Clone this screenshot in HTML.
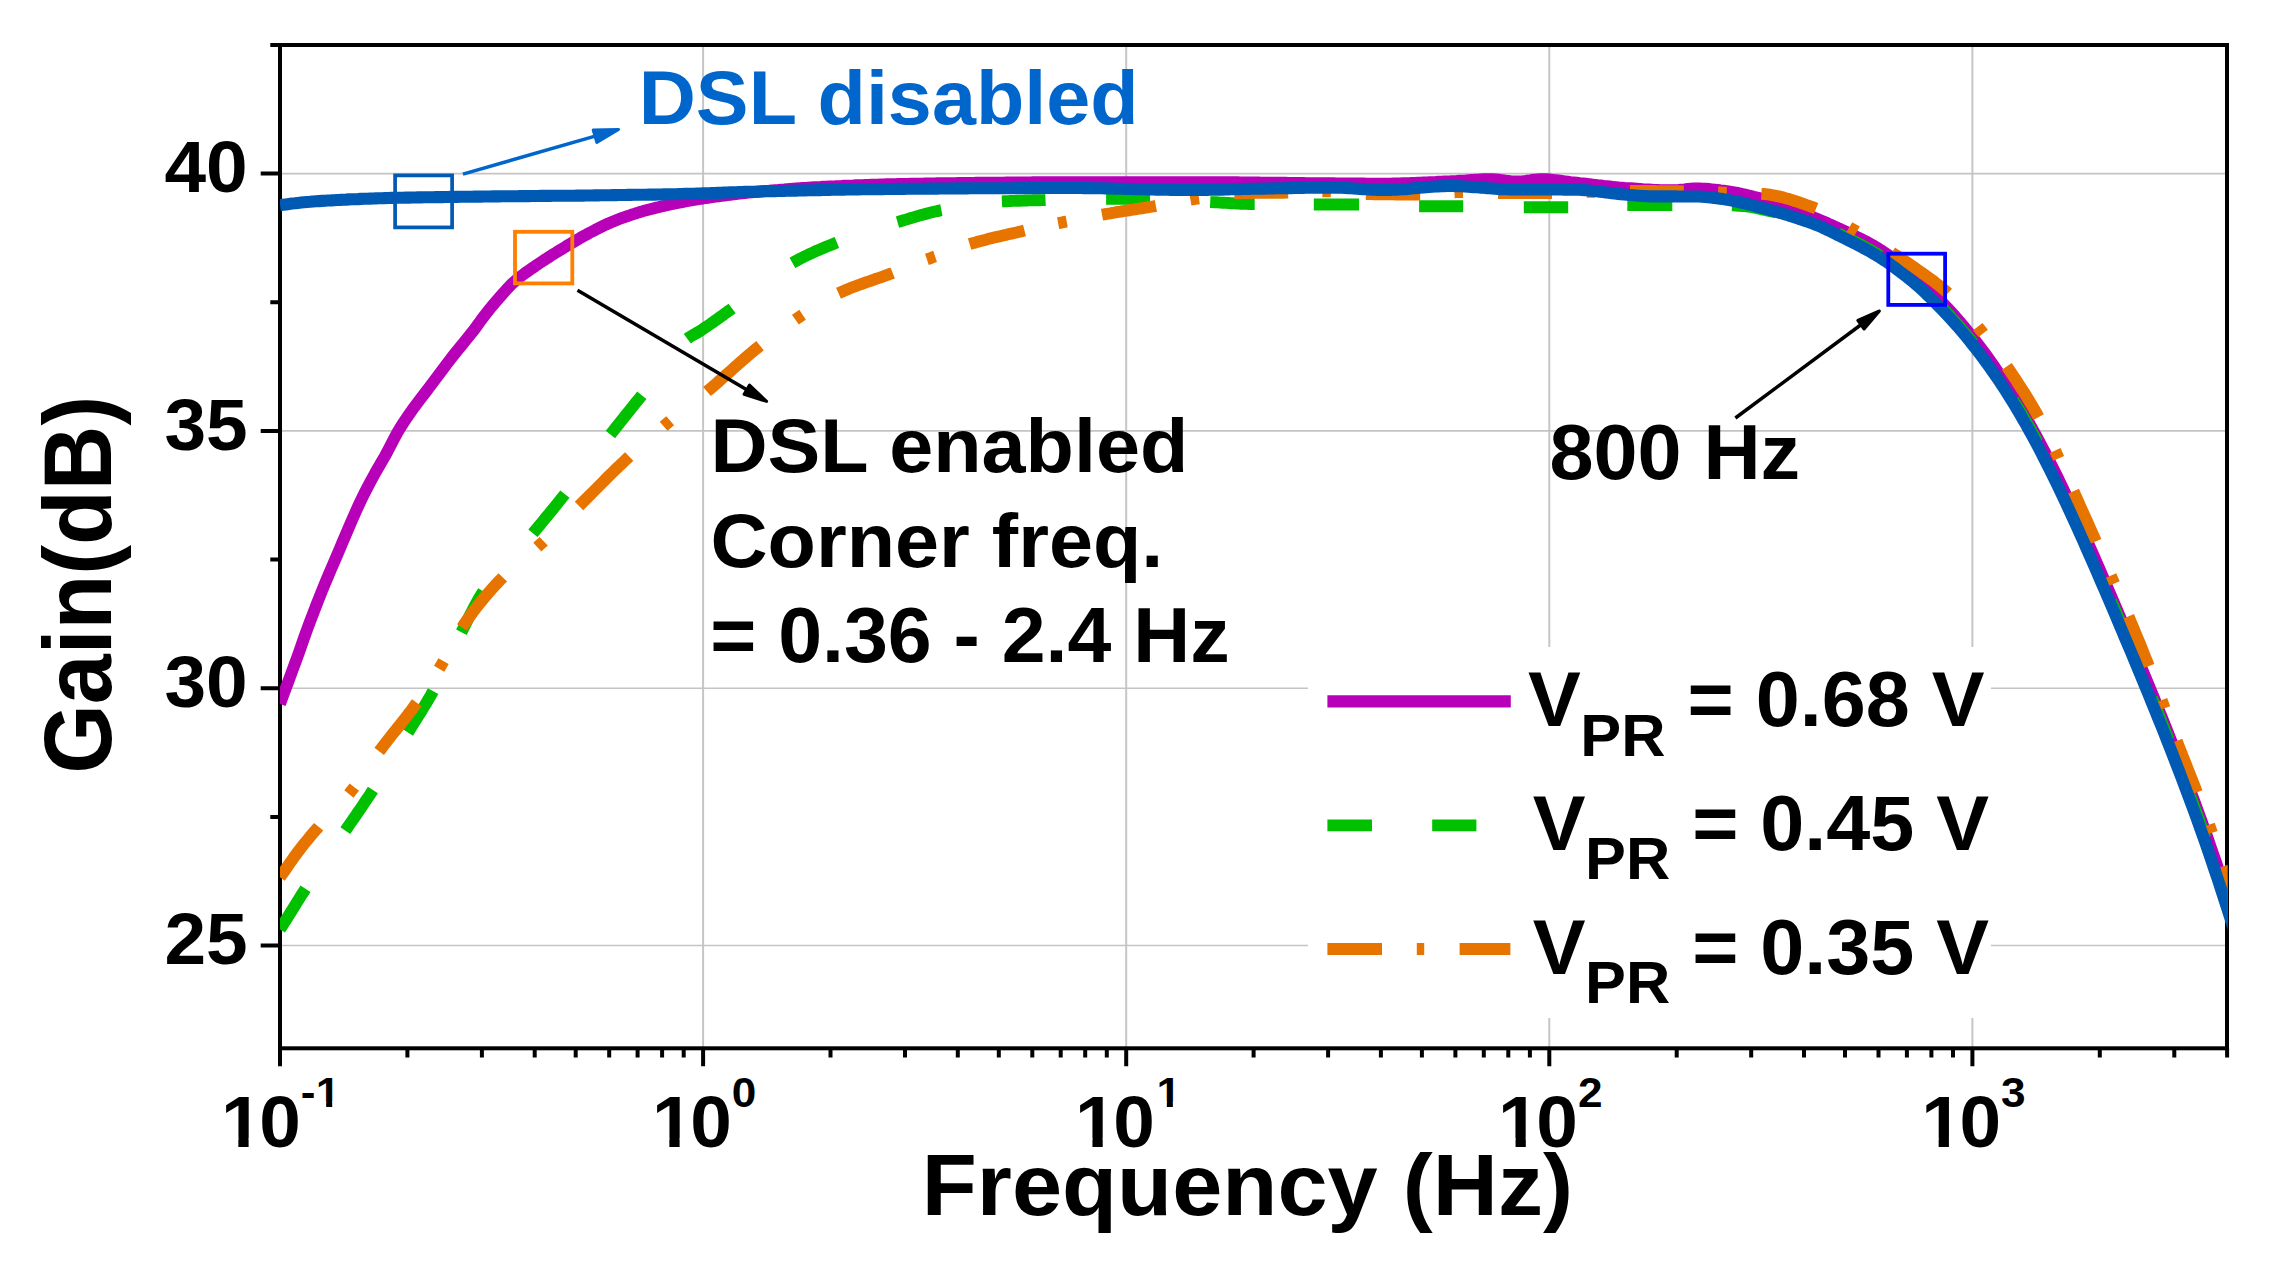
<!DOCTYPE html><html><head><meta charset="utf-8"><title>Gain vs Frequency</title>
<style>html,body{margin:0;padding:0;background:#fff;}svg{display:block;}text{font-family:"Liberation Sans",sans-serif;font-weight:bold;}</style></head><body>
<svg width="2271" height="1275" viewBox="0 0 2271 1275">
<rect width="2271" height="1275" fill="#fff"/>
<path d="M703.1 45.0 V1048.3 M1126.2 45.0 V1048.3 M1549.3 45.0 V1048.3 M1972.4 45.0 V1048.3" stroke="#C6C6C6" stroke-width="2" fill="none"/>
<path d="M280.0 945.5 H2227.0 M280.0 688.2 H2227.0 M280.0 430.9 H2227.0 M280.0 173.6 H2227.0" stroke="#C4C4C4" stroke-width="1.6" fill="none"/>
<rect x="280.0" y="45.0" width="1947.0" height="1003.3" fill="none" stroke="#000" stroke-width="4"/>
<defs><clipPath id="cp"><rect x="280.0" y="45.0" width="1947.7" height="1003.3"/></clipPath></defs>
<g clip-path="url(#cp)" fill="none" stroke-width="11.9" stroke-linejoin="round">
<path d="M280.0 703.9 L283.0 695.8 L286.0 687.7 L289.0 679.6 L292.0 671.5 L295.0 663.4 L298.0 655.3 L301.0 646.8 L304.0 638.0 L307.0 629.7 L310.0 621.6 L313.0 613.8 L316.0 606.0 L319.0 598.4 L322.0 590.9 L325.0 583.6 L328.0 576.4 L331.0 569.3 L334.0 562.3 L337.0 555.3 L340.0 548.3 L343.0 541.1 L346.0 534.1 L349.0 527.1 L352.0 520.2 L355.0 513.4 L358.0 506.6 L361.0 500.2 L364.0 494.1 L367.0 488.2 L370.0 482.5 L373.0 477.0 L376.0 471.5 L379.1 466.2 L382.1 461.1 L385.1 455.9 L388.1 450.3 L391.1 444.5 L394.1 438.6 L397.1 433.1 L400.1 428.0 L403.1 423.3 L406.1 418.8 L409.1 414.4 L412.1 410.1 L415.1 406.0 L418.1 402.0 L421.1 398.0 L424.1 394.1 L427.1 390.3 L430.1 386.3 L433.1 382.3 L436.1 378.3 L439.1 374.3 L442.1 370.2 L445.1 366.2 L448.1 362.2 L451.1 358.3 L454.1 354.5 L457.1 350.7 L460.1 347.1 L463.1 343.4 L466.1 339.8 L469.1 336.1 L472.1 332.3 L475.1 328.5 L478.1 324.3 L481.1 320.1 L484.1 316.1 L487.1 312.3 L490.1 308.5 L493.1 304.9 L496.1 301.4 L499.1 297.9 L502.1 294.5 L505.1 291.1 L508.1 287.8 L511.1 284.7 L514.1 281.9 L517.1 279.3 L520.1 276.9 L523.1 274.6 L526.1 272.4 L529.1 270.3 L532.1 268.2 L535.1 266.2 L538.1 264.1 L541.1 262.1 L544.1 260.1 L547.1 258.2 L550.1 256.2 L553.1 254.3 L556.1 252.5 L559.1 250.6 L562.1 248.8 L565.1 247.0 L568.1 245.1 L571.1 243.3 L574.2 241.5 L577.2 239.8 L580.2 238.0 L583.2 236.3 L586.2 234.7 L589.2 233.0 L592.2 231.5 L595.2 229.9 L598.2 228.4 L601.2 226.9 L604.2 225.4 L607.2 224.0 L610.2 222.7 L613.2 221.4 L616.2 220.2 L619.2 219.0 L622.2 217.9 L625.2 216.9 L628.2 215.8 L631.2 214.8 L634.2 213.9 L637.2 212.9 L640.2 212.0 L643.2 211.1 L646.2 210.3 L649.2 209.5 L652.2 208.7 L655.2 207.9 L658.2 207.2 L661.2 206.4 L664.2 205.8 L667.2 205.1 L670.2 204.5 L673.2 203.8 L676.2 203.2 L679.2 202.6 L682.2 202.1 L685.2 201.5 L688.2 200.9 L691.2 200.4 L694.2 199.9 L697.2 199.4 L700.2 198.9 L703.2 198.5 L706.2 198.0 L709.2 197.6 L712.2 197.2 L715.2 196.7 L718.2 196.3 L721.2 195.9 L724.2 195.5 L727.2 195.1 L730.2 194.8 L733.2 194.4 L736.2 194.0 L739.2 193.7 L742.2 193.3 L745.2 193.0 L748.2 192.7 L751.2 192.4 L754.2 192.1 L757.2 191.8 L760.2 191.5 L763.2 191.2 L766.2 190.9 L769.2 190.7 L772.3 190.4 L775.3 190.1 L778.3 189.9 L781.3 189.6 L784.3 189.4 L787.3 189.1 L790.3 188.9 L793.3 188.7 L796.3 188.5 L799.3 188.3 L802.3 188.0 L805.3 187.9 L808.3 187.7 L811.3 187.5 L814.3 187.3 L817.3 187.1 L820.3 187.0 L823.3 186.8 L826.3 186.7 L829.3 186.5 L832.3 186.4 L835.3 186.3 L838.3 186.1 L841.3 186.0 L844.3 185.8 L847.3 185.7 L850.3 185.6 L853.3 185.5 L856.3 185.3 L859.3 185.2 L862.3 185.1 L865.3 185.0 L868.3 184.9 L871.3 184.8 L874.3 184.7 L877.3 184.6 L880.3 184.5 L883.3 184.4 L886.3 184.3 L889.3 184.2 L892.3 184.2 L895.3 184.1 L898.3 184.0 L901.3 184.0 L904.3 183.9 L907.3 183.9 L910.3 183.8 L913.3 183.7 L916.3 183.7 L919.3 183.6 L922.3 183.6 L925.3 183.5 L928.3 183.5 L931.3 183.4 L934.3 183.4 L937.3 183.3 L940.3 183.3 L943.3 183.2 L946.3 183.2 L949.3 183.1 L952.3 183.1 L955.3 183.1 L958.3 183.0 L961.3 183.0 L964.3 183.0 L967.4 182.9 L970.4 182.9 L973.4 182.9 L976.4 182.8 L979.4 182.8 L982.4 182.8 L985.4 182.7 L988.4 182.7 L991.4 182.7 L994.4 182.6 L997.4 182.6 L1000.4 182.6 L1003.4 182.6 L1006.4 182.5 L1009.4 182.5 L1012.4 182.5 L1015.4 182.5 L1018.4 182.5 L1021.4 182.4 L1024.4 182.4 L1027.4 182.4 L1030.4 182.4 L1033.4 182.3 L1036.4 182.3 L1039.4 182.3 L1042.4 182.3 L1045.4 182.3 L1048.4 182.3 L1051.4 182.2 L1054.4 182.2 L1057.4 182.2 L1060.4 182.2 L1063.4 182.2 L1066.4 182.2 L1069.4 182.2 L1072.4 182.2 L1075.4 182.2 L1078.4 182.2 L1081.4 182.2 L1084.4 182.2 L1087.4 182.2 L1090.4 182.2 L1093.4 182.2 L1096.4 182.2 L1099.4 182.2 L1102.4 182.2 L1105.4 182.2 L1108.4 182.2 L1111.4 182.2 L1114.4 182.2 L1117.4 182.2 L1120.4 182.2 L1123.4 182.2 L1126.4 182.2 L1129.4 182.2 L1132.4 182.2 L1135.4 182.2 L1138.4 182.2 L1141.4 182.2 L1144.4 182.2 L1147.4 182.2 L1150.4 182.2 L1153.4 182.2 L1156.4 182.2 L1159.4 182.2 L1162.5 182.2 L1165.5 182.2 L1168.5 182.2 L1171.5 182.2 L1174.5 182.2 L1177.5 182.2 L1180.5 182.2 L1183.5 182.2 L1186.5 182.2 L1189.5 182.2 L1192.5 182.2 L1195.5 182.2 L1198.5 182.2 L1201.5 182.2 L1204.5 182.2 L1207.5 182.2 L1210.5 182.2 L1213.5 182.2 L1216.5 182.2 L1219.5 182.2 L1222.5 182.3 L1225.5 182.3 L1228.5 182.3 L1231.5 182.3 L1234.5 182.3 L1237.5 182.3 L1240.5 182.4 L1243.5 182.4 L1246.5 182.4 L1249.5 182.4 L1252.5 182.5 L1255.5 182.5 L1258.5 182.5 L1261.5 182.6 L1264.5 182.6 L1267.5 182.6 L1270.5 182.7 L1273.5 182.7 L1276.5 182.7 L1279.5 182.8 L1282.5 182.8 L1285.5 182.8 L1288.5 182.9 L1291.5 182.9 L1294.5 182.9 L1297.5 183.0 L1300.5 183.0 L1303.5 183.0 L1306.5 183.1 L1309.5 183.1 L1312.5 183.1 L1315.5 183.2 L1318.5 183.2 L1321.5 183.2 L1324.5 183.2 L1327.5 183.3 L1330.5 183.3 L1333.5 183.3 L1336.5 183.4 L1339.5 183.4 L1342.5 183.4 L1345.5 183.4 L1348.5 183.5 L1351.5 183.5 L1354.5 183.5 L1357.5 183.5 L1360.6 183.5 L1363.6 183.5 L1366.6 183.6 L1369.6 183.6 L1372.6 183.6 L1375.6 183.6 L1378.6 183.6 L1381.6 183.6 L1384.6 183.6 L1387.6 183.6 L1390.6 183.6 L1393.6 183.5 L1396.6 183.5 L1399.6 183.4 L1402.6 183.3 L1405.6 183.2 L1408.6 183.1 L1411.6 183.0 L1414.6 182.9 L1417.6 182.8 L1420.6 182.7 L1423.6 182.5 L1426.6 182.4 L1429.6 182.2 L1432.6 182.1 L1435.6 182.0 L1438.6 181.8 L1441.6 181.7 L1444.6 181.5 L1447.6 181.4 L1450.6 181.3 L1453.6 181.1 L1456.6 181.0 L1459.6 180.8 L1462.6 180.6 L1465.6 180.4 L1468.6 180.1 L1471.6 179.9 L1474.6 179.8 L1477.6 179.6 L1480.6 179.4 L1483.6 179.3 L1486.6 179.2 L1489.6 179.2 L1492.6 179.2 L1495.6 179.4 L1498.6 179.7 L1501.6 180.1 L1504.6 180.5 L1507.6 180.8 L1510.6 181.2 L1513.6 181.4 L1516.6 181.5 L1519.6 181.4 L1522.6 181.2 L1525.6 180.9 L1528.6 180.5 L1531.6 180.0 L1534.6 179.7 L1537.6 179.4 L1540.6 179.2 L1543.6 179.2 L1546.6 179.3 L1549.6 179.5 L1552.6 179.8 L1555.7 180.1 L1558.7 180.5 L1561.7 180.9 L1564.7 181.3 L1567.7 181.7 L1570.7 182.1 L1573.7 182.4 L1576.7 182.7 L1579.7 183.1 L1582.7 183.4 L1585.7 183.7 L1588.7 184.1 L1591.7 184.5 L1594.7 184.8 L1597.7 185.2 L1600.7 185.5 L1603.7 185.9 L1606.7 186.2 L1609.7 186.5 L1612.7 186.8 L1615.7 187.1 L1618.7 187.4 L1621.7 187.6 L1624.7 187.9 L1627.7 188.1 L1630.7 188.3 L1633.7 188.5 L1636.7 188.7 L1639.7 188.9 L1642.7 189.2 L1645.7 189.4 L1648.7 189.5 L1651.7 189.7 L1654.7 189.9 L1657.7 190.0 L1660.7 190.1 L1663.7 190.2 L1666.7 190.3 L1669.7 190.3 L1672.7 190.3 L1675.7 190.1 L1678.7 189.9 L1681.7 189.6 L1684.7 189.3 L1687.7 188.9 L1690.7 188.7 L1693.7 188.5 L1696.7 188.4 L1699.7 188.4 L1702.7 188.6 L1705.7 188.8 L1708.7 189.0 L1711.7 189.3 L1714.7 189.6 L1717.7 190.0 L1720.7 190.4 L1723.7 190.7 L1726.7 191.1 L1729.7 191.6 L1732.7 192.1 L1735.7 192.6 L1738.7 193.2 L1741.7 193.9 L1744.7 194.5 L1747.7 195.3 L1750.8 196.0 L1753.8 196.8 L1756.8 197.5 L1759.8 198.3 L1762.8 199.2 L1765.8 200.0 L1768.8 200.8 L1771.8 201.7 L1774.8 202.7 L1777.8 203.7 L1780.8 204.8 L1783.8 205.9 L1786.8 207.1 L1789.8 208.2 L1792.8 209.4 L1795.8 210.5 L1798.8 211.6 L1801.8 212.8 L1804.8 213.9 L1807.8 215.0 L1810.8 216.2 L1813.8 217.5 L1816.8 218.7 L1819.8 220.0 L1822.8 221.2 L1825.8 222.5 L1828.8 223.9 L1831.8 225.2 L1834.8 226.6 L1837.8 228.0 L1840.8 229.3 L1843.8 230.7 L1846.8 232.1 L1849.8 233.5 L1852.8 234.9 L1855.8 236.4 L1858.8 237.8 L1861.8 239.3 L1864.8 240.9 L1867.8 242.4 L1870.8 244.1 L1873.8 245.8 L1876.8 247.6 L1879.8 249.5 L1882.8 251.4 L1885.8 253.4 L1888.8 255.4 L1891.8 257.6 L1894.8 259.8 L1897.8 262.1 L1900.8 264.4 L1903.8 266.8 L1906.8 269.1 L1909.8 271.5 L1912.8 273.9 L1915.8 276.5 L1918.8 279.2 L1921.8 282.0 L1924.8 284.9 L1927.8 287.9 L1930.8 290.8 L1933.8 293.8 L1936.8 296.9 L1939.8 299.9 L1942.8 303.1 L1945.8 306.3 L1948.9 309.5 L1951.9 312.8 L1954.9 316.1 L1957.9 319.6 L1960.9 323.0 L1963.9 326.6 L1966.9 330.2 L1969.9 333.9 L1972.9 337.6 L1975.9 341.4 L1978.9 345.3 L1981.9 349.3 L1984.9 353.3 L1987.9 357.5 L1990.9 361.7 L1993.9 366.0 L1996.9 370.3 L1999.9 374.8 L2002.9 379.3 L2005.9 384.0 L2008.9 388.7 L2011.9 393.5 L2014.9 398.4 L2017.9 403.4 L2020.9 408.5 L2023.9 413.7 L2026.9 419.1 L2029.9 424.5 L2032.9 429.9 L2035.9 435.4 L2038.9 440.9 L2041.9 446.5 L2044.9 452.3 L2047.9 458.1 L2050.9 464.0 L2053.9 469.9 L2056.9 476.0 L2059.9 482.1 L2062.9 488.4 L2065.9 494.7 L2068.9 501.0 L2071.9 507.5 L2074.9 513.9 L2077.9 520.5 L2080.9 527.1 L2083.9 533.8 L2086.9 540.5 L2089.9 547.2 L2092.9 554.0 L2095.9 560.8 L2098.9 567.7 L2101.9 574.6 L2104.9 581.5 L2107.9 588.5 L2110.9 595.5 L2113.9 602.5 L2116.9 609.5 L2119.9 616.6 L2122.9 623.6 L2125.9 630.7 L2128.9 637.9 L2131.9 645.0 L2134.9 652.2 L2137.9 659.3 L2140.9 666.5 L2144.0 673.8 L2147.0 681.0 L2150.0 688.3 L2153.0 695.6 L2156.0 703.0 L2159.0 710.4 L2162.0 717.8 L2165.0 725.3 L2168.0 732.8 L2171.0 740.4 L2174.0 748.0 L2177.0 755.6 L2180.0 763.4 L2183.0 771.2 L2186.0 779.0 L2189.0 787.0 L2192.0 795.0 L2195.0 803.1 L2198.0 811.2 L2201.0 819.5 L2204.0 827.9 L2207.0 836.3 L2210.0 844.9 L2213.0 853.6 L2216.0 862.3 L2219.0 871.2 L2222.0 880.2 L2225.0 889.3 L2228.0 898.5 L2231.0 907.9 L2234.0 917.3 L2237.0 926.8 L2240.0 936.3" stroke="#B800B8"/>
<path d="M280.0 929.4 L282.1 926.1 L284.2 922.7 L286.4 919.3 L288.5 915.9 L290.6 912.5 L292.8 909.0 L294.9 905.6 L297.0 902.2 L299.1 898.8 L301.2 895.4 L303.4 892.1 L305.5 888.8 M345.3 830.7 L347.4 827.6 L349.5 824.5 L351.7 821.4 L353.8 818.3 L355.9 815.3 L358.0 812.2 L360.2 809.1 L362.3 806.0 L364.4 802.8 L366.5 799.7 L368.7 796.5 L370.8 793.3 L372.9 790.0 M408.0 732.5 L410.1 729.1 L412.2 725.7 L414.3 722.4 L416.4 719.1 L418.5 715.7 L420.6 712.4 L422.6 709.0 L424.7 705.6 L426.8 702.1 L428.9 698.5 L431.0 694.9 L433.1 691.1 M461.4 632.2 L463.6 627.9 L465.8 623.5 L468.0 619.1 L470.2 614.8 L472.4 610.5 L474.5 606.3 L476.7 602.3 L478.9 598.4 L481.1 594.8 L483.3 591.4 M532.9 533.3 L534.9 530.9 L536.9 528.5 L538.9 526.1 L540.9 523.7 L542.9 521.3 L544.9 518.8 L546.9 516.4 L548.9 514.0 L550.9 511.5 L552.9 509.1 L554.9 506.6 L556.9 504.1 L558.9 501.6 L560.9 499.1 L562.9 496.6 L564.9 494.1 M610.4 434.5 L612.5 431.8 L614.6 429.2 L616.7 426.5 L618.8 423.9 L620.9 421.3 L623.0 418.7 L625.1 416.1 L627.1 413.5 L629.2 410.9 L631.3 408.3 L633.4 405.7 L635.5 403.1 L637.6 400.5 L639.7 397.9 L641.8 395.3 M687.3 338.8 L689.3 337.3 L691.4 336.0 L693.4 334.8 L695.4 333.7 L697.5 332.5 L699.5 331.3 L701.6 330.0 L703.6 328.6 L705.6 327.3 L707.7 325.9 L709.7 324.5 L711.7 323.1 L713.8 321.6 L715.8 320.2 L717.8 318.7 L719.9 317.3 L721.9 315.8 L724.0 314.3 L726.0 312.8 L728.0 311.4 L730.1 309.9 L732.1 308.4 M792.4 262.9 L794.4 261.8 L796.4 260.7 L798.5 259.6 L800.5 258.5 L802.5 257.5 L804.5 256.5 L806.6 255.5 L808.6 254.5 L810.6 253.6 L812.6 252.7 L814.6 251.7 L816.7 250.8 L818.7 250.0 L820.7 249.1 L822.7 248.2 L824.8 247.4 L826.8 246.5 L828.8 245.7 L830.8 244.9 L832.9 244.1 L834.9 243.3 L836.9 242.5 M897.5 222.1 L899.6 221.5 L901.7 220.8 L903.8 220.2 L905.9 219.6 L908.0 219.0 L910.0 218.3 L912.1 217.7 L914.2 217.1 L916.3 216.5 L918.4 215.9 L920.5 215.3 L922.6 214.7 L924.7 214.1 L926.8 213.6 L928.9 213.0 L930.9 212.5 L933.0 212.0 L935.1 211.5 L937.2 211.1 L939.3 210.6 L941.4 210.2 M1001.9 201.4 L1004.0 201.3 L1006.1 201.2 L1008.1 201.1 L1010.2 201.0 L1012.3 200.9 L1014.4 200.9 L1016.4 200.8 L1018.5 200.7 L1020.6 200.7 L1022.7 200.6 L1024.7 200.5 L1026.8 200.5 L1028.9 200.4 L1031.0 200.4 L1033.0 200.3 L1035.1 200.3 L1037.2 200.2 L1039.3 200.2 L1041.3 200.1 L1043.4 200.1 L1045.5 200.0 M1106.1 198.8 L1108.2 198.8 L1110.3 198.8 L1112.4 198.8 L1114.5 198.8 L1116.6 198.8 L1118.6 198.8 L1120.7 198.8 L1122.8 198.8 L1124.9 198.8 L1127.0 198.8 L1129.1 198.8 L1131.2 198.8 L1133.3 198.8 L1135.4 198.8 L1137.5 198.8 L1139.5 198.8 L1141.6 198.8 L1143.7 198.8 L1145.8 198.8 L1147.9 198.8 L1150.0 198.8 M1210.2 202.0 L1212.2 202.1 L1214.2 202.2 L1216.3 202.3 L1218.3 202.4 L1220.3 202.6 L1222.3 202.7 L1224.4 202.8 L1226.4 202.9 L1228.4 203.0 L1230.4 203.2 L1232.5 203.3 L1234.5 203.4 L1236.5 203.5 L1238.5 203.6 L1240.5 203.7 L1242.6 203.8 L1244.6 203.8 L1246.6 203.9 L1248.6 204.0 L1250.7 204.0 L1252.7 204.1 L1254.7 204.1 M1313.8 204.5 L1315.9 204.5 L1317.9 204.5 L1320.0 204.5 L1322.0 204.5 L1324.1 204.5 L1326.2 204.5 L1328.2 204.5 L1330.3 204.5 L1332.3 204.5 L1334.4 204.5 L1336.4 204.5 L1338.5 204.5 L1340.6 204.5 L1342.6 204.5 L1344.7 204.5 L1346.7 204.5 L1348.8 204.5 L1350.9 204.5 L1352.9 204.5 L1355.0 204.5 L1357.0 204.5 L1359.1 204.5 M1419.1 206.2 L1421.1 206.2 L1423.1 206.2 L1425.1 206.2 L1427.1 206.2 L1429.1 206.2 L1431.1 206.2 L1433.1 206.2 L1435.1 206.2 L1437.1 206.2 L1439.1 206.2 L1441.2 206.2 L1443.2 206.2 L1445.2 206.2 L1447.2 206.2 L1449.2 206.2 L1451.2 206.2 L1453.2 206.2 L1455.2 206.2 L1457.2 206.2 L1459.2 206.2 L1461.2 206.2 L1463.2 206.2 M1523.8 207.3 L1525.8 207.3 L1527.8 207.3 L1529.9 207.3 L1531.9 207.3 L1533.9 207.3 L1535.9 207.3 L1537.9 207.3 L1539.9 207.3 L1542.0 207.3 L1544.0 207.3 L1546.0 207.3 L1548.0 207.3 L1550.0 207.3 L1552.1 207.3 L1554.1 207.3 L1556.1 207.3 L1558.1 207.3 L1560.1 207.3 L1562.1 207.3 L1564.2 207.3 L1566.2 207.3 L1568.2 207.3 M1627.3 205.0 L1629.3 205.0 L1631.4 205.0 L1633.4 205.0 L1635.5 205.0 L1637.5 205.0 L1639.6 205.0 L1641.6 205.0 L1643.7 205.0 L1645.7 205.0 L1647.8 205.0 L1649.8 205.0 L1651.8 205.0 L1653.9 205.0 L1655.9 205.0 L1658.0 205.0 L1660.0 205.0 L1662.1 205.0 L1664.1 205.0 L1666.2 205.0 L1668.2 205.0 L1670.3 205.0 L1672.3 205.0 M1732.0 205.3 L1734.0 205.4 L1736.0 205.6 L1738.1 205.7 L1740.1 205.9 L1742.1 206.0 L1744.1 206.2 L1746.2 206.4 L1748.2 206.6 L1750.2 206.9 L1752.2 207.2 L1754.2 207.6 L1756.3 208.0 L1758.3 208.5 L1760.3 208.9 L1762.3 209.4 L1764.4 209.8 L1766.4 210.3 L1768.4 210.7 L1770.4 211.2 L1772.5 211.6 L1774.5 212.1 L1776.5 212.6 M1838.0 233.4 L1840.0 234.4 L1842.0 235.3 L1844.0 236.3 L1846.0 237.3 L1848.0 238.2 L1850.0 239.2 L1852.0 240.2 L1854.0 241.3 L1856.0 242.3 L1858.0 243.3 L1860.0 244.4 L1862.0 245.4 L1864.0 246.5 L1866.0 247.6 L1868.0 248.7 L1870.0 249.8 L1872.0 251.0 L1874.0 252.2 L1876.0 253.3 L1878.0 254.6 L1880.0 255.8 M1939.5 305.0 L1941.6 307.2 L1943.7 309.3 L1945.8 311.6 L1947.9 313.8 L1950.0 316.1 L1952.1 318.4 L1954.2 320.7 L1956.3 323.0 L1958.4 325.4 L1960.5 327.8 L1962.5 330.3 L1964.6 332.8 L1966.7 335.3 L1968.8 337.8 L1970.9 340.4 L1973.0 343.0 M2013.2 400.0 L2015.2 403.3 L2017.2 406.6 L2019.3 409.9 L2021.3 413.3 L2023.3 416.8 L2025.3 420.2 L2027.3 423.8 L2029.3 427.3 L2031.3 430.9 L2033.4 434.6 L2035.4 438.3 L2037.4 442.0 M2067.7 503.0 L2069.9 507.6 L2072.0 512.1 L2074.1 516.8 L2076.2 521.4 L2078.3 526.1 L2080.5 530.8 L2082.6 535.5 L2084.7 540.2 L2086.8 545.0 M2111.2 601.0 L2113.4 606.2 L2115.6 611.4 L2117.9 616.7 L2120.1 621.9 L2122.3 627.2 L2124.6 632.4 L2126.8 637.7 L2129.0 643.0 M2151.8 698.0 L2153.9 703.2 L2156.0 708.4 L2158.2 713.6 L2160.3 718.8 L2162.4 724.1 L2164.5 729.4 L2166.6 734.7 L2168.7 740.0 M2189.9 795.0 L2192.1 801.0 L2194.3 807.0 L2196.6 813.1 L2198.8 819.3 L2201.0 825.5 L2203.2 831.7 L2205.5 838.0 M2223.8 892.0 L2225.8 898.2 L2227.8 904.5 L2229.9 910.9 L2231.9 917.2 L2233.9 923.6 L2235.9 930.1 L2238.0 936.6 L2240.0 943.1" stroke="#00C000"/>
<path d="M280.0 877.2 L282.0 874.4 L284.1 871.5 L286.1 868.6 L288.1 865.7 L290.2 862.7 L292.2 859.8 L294.2 856.9 L296.3 854.1 L298.3 851.4 L300.3 848.8 L302.3 846.2 L304.4 843.6 L306.4 841.1 L308.4 838.7 L310.5 836.2 L312.5 833.8 L314.5 831.4 L316.6 829.1 L318.6 826.7 M379.2 751.4 L381.3 748.6 L383.4 745.8 L385.5 743.1 L387.6 740.4 L389.6 737.8 L391.7 735.1 L393.8 732.5 L395.9 729.9 L398.0 727.3 L400.1 724.7 L402.2 722.1 L404.3 719.4 L406.4 716.7 L408.4 714.0 L410.5 711.3 L412.6 708.5 L414.7 705.6 L416.8 702.7 M462.0 627.5 L464.0 624.5 L466.1 621.5 L468.1 618.6 L470.2 615.8 L472.2 613.0 L474.2 610.3 L476.3 607.6 L478.3 605.0 L480.4 602.5 L482.4 600.0 L484.4 597.5 L486.5 595.1 L488.5 592.7 L490.6 590.4 L492.6 588.1 L494.6 585.9 L496.7 583.7 L498.7 581.5 L500.8 579.4 L502.8 577.3 M579.0 506.0 L581.0 504.0 L583.0 502.0 L585.0 500.0 L587.0 498.0 L589.0 496.0 L591.0 494.0 L593.1 491.9 L595.1 489.9 L597.1 487.9 L599.1 485.9 L601.1 483.9 L603.1 481.9 L605.1 479.8 L607.1 477.8 L609.1 475.8 L611.1 473.9 L613.1 471.9 L615.1 469.9 L617.2 467.9 L619.2 466.0 L621.2 464.1 L623.2 462.2 L625.2 460.3 L627.2 458.4 L629.2 456.5 M707.0 391.5 L709.0 389.8 L711.1 388.1 L713.1 386.3 L715.2 384.6 L717.2 382.8 L719.2 381.0 L721.3 379.2 L723.3 377.4 L725.3 375.6 L727.4 373.8 L729.4 372.0 L731.5 370.2 L733.5 368.3 L735.5 366.5 L737.6 364.7 L739.6 362.9 L741.7 361.1 L743.7 359.3 L745.7 357.6 L747.8 355.8 L749.8 354.1 L751.8 352.3 L753.9 350.6 L755.9 349.0 L758.0 347.3 L760.0 345.7 M838.5 293.3 L840.5 292.4 L842.5 291.5 L844.5 290.6 L846.5 289.7 L848.5 288.9 L850.5 288.1 L852.6 287.3 L854.6 286.5 L856.6 285.8 L858.6 285.0 L860.6 284.3 L862.6 283.6 L864.6 282.9 L866.6 282.2 L868.6 281.5 L870.6 280.8 L872.6 280.1 L874.6 279.4 L876.6 278.7 L878.6 278.0 L880.7 277.3 L882.7 276.6 L884.7 275.9 L886.7 275.1 L888.7 274.4 L890.7 273.7 L892.7 272.9 M969.6 244.1 L971.6 243.5 L973.7 242.9 L975.7 242.4 L977.7 241.8 L979.8 241.2 L981.8 240.7 L983.8 240.2 L985.9 239.7 L987.9 239.1 L989.9 238.6 L992.0 238.1 L994.0 237.6 L996.0 237.1 L998.1 236.7 L1000.1 236.2 L1002.1 235.7 L1004.2 235.2 L1006.2 234.8 L1008.2 234.3 L1010.3 233.8 L1012.3 233.4 L1014.3 232.9 L1016.4 232.5 L1018.4 232.0 L1020.4 231.5 L1022.5 231.1 L1024.5 230.6 M1102.0 214.7 L1104.1 214.3 L1106.1 214.0 L1108.2 213.6 L1110.3 213.3 L1112.4 212.9 L1114.4 212.6 L1116.5 212.2 L1118.6 211.9 L1120.7 211.6 L1122.7 211.2 L1124.8 210.9 L1126.9 210.6 L1129.0 210.3 L1131.0 209.9 L1133.1 209.6 L1135.2 209.3 L1137.2 208.9 L1139.3 208.6 L1141.4 208.3 L1143.5 208.0 L1145.5 207.6 L1147.6 207.3 L1149.7 206.9 L1151.8 206.6 L1153.8 206.3 L1155.9 205.9 M1234.4 193.2 L1236.5 193.2 L1238.5 193.1 L1240.6 193.1 L1242.7 193.1 L1244.7 193.0 L1246.8 193.0 L1248.9 193.0 L1251.0 193.0 L1253.0 192.9 L1255.1 192.9 L1257.2 192.9 L1259.2 192.9 L1261.3 192.9 L1263.4 192.9 L1265.4 192.8 L1267.5 192.8 L1269.6 192.8 L1271.6 192.8 L1273.7 192.8 L1275.8 192.8 L1277.9 192.7 L1279.9 192.7 L1282.0 192.7 L1284.1 192.7 L1286.1 192.6 L1288.2 192.6 M1365.8 194.0 L1367.8 194.0 L1369.8 194.1 L1371.8 194.1 L1373.9 194.2 L1375.9 194.2 L1377.9 194.2 L1379.9 194.3 L1381.9 194.3 L1383.9 194.3 L1385.9 194.3 L1388.0 194.4 L1390.0 194.4 L1392.0 194.4 L1394.0 194.4 L1396.0 194.5 L1398.0 194.5 L1400.1 194.5 L1402.1 194.5 L1404.1 194.5 L1406.1 194.6 L1408.1 194.6 L1410.1 194.6 L1412.1 194.6 L1414.2 194.6 L1416.2 194.6 L1418.2 194.6 L1420.2 194.6 M1498.0 193.0 L1500.0 193.0 L1502.0 193.0 L1504.0 193.0 L1506.0 193.0 L1508.0 193.0 L1510.0 193.0 L1512.0 193.0 L1514.0 193.0 L1516.0 193.0 L1518.0 193.0 L1520.0 193.0 L1522.0 193.0 L1524.0 193.0 L1526.0 193.0 L1528.0 193.0 L1530.0 193.0 L1532.0 193.0 L1534.0 193.0 L1536.0 193.0 L1538.0 193.0 L1540.0 193.0 L1542.0 193.0 L1544.0 193.0 L1546.0 193.0 L1548.0 193.0 L1550.0 193.0 L1552.0 193.0 M1630.0 190.9 L1632.1 190.9 L1634.1 190.9 L1636.2 190.9 L1638.3 190.9 L1640.3 190.9 L1642.4 190.9 L1644.5 190.9 L1646.6 191.0 L1648.6 191.0 L1650.7 191.0 L1652.8 191.0 L1654.8 191.0 L1656.9 191.1 L1659.0 191.1 L1661.0 191.1 L1663.1 191.1 L1665.2 191.1 L1667.2 191.2 L1669.3 191.2 L1671.4 191.2 L1673.5 191.3 L1675.5 191.3 L1677.6 191.3 L1679.7 191.3 L1681.7 191.4 L1683.8 191.4 M1761.4 193.9 L1763.4 194.0 L1765.5 194.2 L1767.5 194.4 L1769.5 194.7 L1771.5 195.0 L1773.6 195.4 L1775.6 195.8 L1777.6 196.2 L1779.6 196.6 L1781.7 197.1 L1783.7 197.6 L1785.7 198.2 L1787.7 198.7 L1789.8 199.3 L1791.8 200.0 L1793.8 200.6 L1795.8 201.3 L1797.9 201.9 L1799.9 202.6 L1801.9 203.3 L1803.9 204.0 L1806.0 204.8 L1808.0 205.5 L1810.0 206.2 L1812.0 207.0 L1814.1 207.7 L1816.1 208.5 M1891.9 252.6 L1893.9 253.9 L1895.9 255.2 L1897.9 256.4 L1899.9 257.7 L1901.9 259.1 L1903.9 260.4 L1905.9 261.7 L1907.9 263.1 L1909.9 264.4 L1911.9 265.8 L1913.9 267.2 L1915.9 268.6 L1917.9 270.0 L1920.0 271.5 L1922.0 272.9 L1924.0 274.3 L1926.0 275.8 L1928.0 277.2 L1930.0 278.7 L1932.0 280.1 L1934.0 281.6 L1936.0 283.2 L1938.0 284.7 L1940.0 286.3 L1942.0 288.0 L1944.0 289.7 L1946.0 291.4 L1948.0 293.2 M348.9 793.9 L351.6 790.6 L354.3 787.1 M439.1 668.8 L441.3 665.1 L443.5 661.2 M537.3 547.1 L539.4 545.2 L541.6 543.2 L543.7 541.2 M663.6 426.3 L665.8 424.4 L668.0 422.6 L670.2 420.7 M795.4 319.7 L797.8 318.0 L800.2 316.4 L802.6 314.8 M926.9 259.4 L929.0 258.7 L931.0 257.9 L933.0 257.1 L935.1 256.4 M1058.1 223.2 L1060.3 222.8 L1062.4 222.4 L1064.5 221.9 L1066.7 221.5 M1190.4 199.7 L1192.6 199.3 L1194.7 199.0 L1196.8 198.6 L1199.0 198.3 M1322.4 191.2 L1324.5 191.2 L1326.7 191.2 L1328.9 191.2 L1331.0 191.3 M1454.4 192.2 L1456.5 192.1 L1458.7 192.1 L1460.9 192.1 L1463.0 192.1 M1586.5 191.9 L1588.6 191.8 L1590.8 191.8 L1593.0 191.7 L1595.1 191.7 M1718.2 192.5 L1720.3 192.5 L1722.5 192.6 L1724.7 192.7 L1726.8 192.7 M1849.2 227.3 L1851.7 228.8 L1854.3 230.2 L1856.8 231.7 M2006.8 366.3 L2008.9 369.4 L2011.0 372.6 L2013.2 375.8 L2015.3 378.9 L2017.4 382.2 L2019.5 385.4 L2021.6 388.7 L2023.8 392.0 L2025.9 395.4 L2028.0 398.9 L2030.1 402.4 L2032.2 405.9 L2034.4 409.6 L2036.5 413.3 L2038.6 417.1 M2073.5 491.2 L2075.5 495.7 L2077.6 500.3 L2079.6 504.8 L2081.6 509.3 L2083.7 513.9 L2085.7 518.4 L2087.8 523.0 L2089.8 527.6 L2091.8 532.2 L2093.9 536.8 L2095.9 541.4 M2128.5 616.4 L2130.5 621.2 L2132.6 626.1 L2134.6 631.0 L2136.6 635.9 L2138.7 640.8 L2140.7 645.8 L2142.7 650.8 L2144.7 655.9 L2146.8 661.0 L2148.8 666.2 M2176.7 740.8 L2178.7 746.1 L2180.7 751.2 L2182.8 756.4 L2184.8 761.5 L2186.8 766.6 L2188.8 771.7 L2190.8 776.7 L2192.9 781.9 L2194.9 787.1 L2196.9 792.3 M2223.0 866.3 L2225.1 872.8 L2227.2 879.4 L2229.4 886.0 L2231.5 892.5 L2233.6 899.1 L2235.8 905.6 L2237.9 912.3 L2240.0 919.0 M1977.8 326.6 L1980.5 330.0 L1983.2 333.4 M2055.1 450.5 L2058.7 458.4 M2110.8 575.7 L2114.2 583.7 M2161.6 700.1 L2164.6 708.3 M2209.1 824.6 L2211.9 832.8" stroke="#E87400"/>
<path d="M280.0 205.2 L283.0 204.8 L286.0 204.4 L289.0 204.0 L292.0 203.6 L295.0 203.3 L298.0 202.9 L301.0 202.6 L304.0 202.3 L307.0 202.0 L310.0 201.8 L313.0 201.5 L316.0 201.3 L319.0 201.1 L322.0 200.9 L325.0 200.7 L328.0 200.5 L331.0 200.4 L334.0 200.2 L337.0 200.0 L340.0 199.9 L343.0 199.7 L346.0 199.6 L349.0 199.4 L352.0 199.3 L355.0 199.2 L358.0 199.1 L361.0 198.9 L364.0 198.8 L367.0 198.7 L370.0 198.6 L373.0 198.5 L376.0 198.4 L379.0 198.3 L382.0 198.2 L385.0 198.1 L388.0 198.0 L391.0 197.9 L394.0 197.9 L397.0 197.8 L400.0 197.7 L403.0 197.7 L406.0 197.6 L409.0 197.6 L412.0 197.5 L415.0 197.5 L418.0 197.4 L421.0 197.4 L424.0 197.3 L427.0 197.3 L430.0 197.2 L433.0 197.2 L436.0 197.1 L439.0 197.1 L442.0 197.1 L445.0 197.0 L448.0 197.0 L451.0 196.9 L454.0 196.9 L457.0 196.9 L460.0 196.8 L463.0 196.8 L466.0 196.7 L469.0 196.7 L472.0 196.7 L475.0 196.6 L478.0 196.6 L481.0 196.6 L484.0 196.5 L487.0 196.5 L490.0 196.5 L493.0 196.4 L496.0 196.4 L499.0 196.4 L502.0 196.3 L505.0 196.3 L508.0 196.3 L511.0 196.2 L514.0 196.2 L517.0 196.2 L520.0 196.1 L523.0 196.1 L526.0 196.1 L529.0 196.1 L532.0 196.0 L535.0 196.0 L538.0 196.0 L541.0 195.9 L544.0 195.9 L547.0 195.9 L550.0 195.9 L553.0 195.8 L556.0 195.8 L559.0 195.8 L562.0 195.8 L565.0 195.8 L568.0 195.7 L571.0 195.7 L574.0 195.7 L577.0 195.6 L580.0 195.6 L583.0 195.6 L586.0 195.5 L589.0 195.5 L592.0 195.5 L595.0 195.4 L598.0 195.4 L601.0 195.3 L604.0 195.3 L607.0 195.2 L610.0 195.2 L613.0 195.1 L616.0 195.1 L619.0 195.0 L622.0 195.0 L625.0 195.0 L628.0 194.9 L631.0 194.9 L634.0 194.8 L637.0 194.8 L640.0 194.8 L643.0 194.7 L646.0 194.7 L649.0 194.6 L652.0 194.6 L655.0 194.6 L658.0 194.5 L661.0 194.5 L664.0 194.4 L667.0 194.4 L670.0 194.3 L673.0 194.2 L676.0 194.2 L679.0 194.1 L682.0 194.0 L685.0 193.9 L688.0 193.9 L691.0 193.8 L694.0 193.7 L697.0 193.6 L700.0 193.5 L703.0 193.4 L706.0 193.3 L709.0 193.2 L712.0 193.1 L715.0 193.0 L718.0 192.9 L721.0 192.8 L724.0 192.6 L727.0 192.5 L730.0 192.4 L733.0 192.3 L736.0 192.2 L739.0 192.1 L742.0 192.0 L745.0 191.9 L748.0 191.8 L751.0 191.7 L754.0 191.7 L757.0 191.6 L760.0 191.5 L763.0 191.4 L766.0 191.3 L769.0 191.3 L772.0 191.2 L775.0 191.1 L778.0 191.0 L781.0 191.0 L784.0 190.9 L787.0 190.8 L790.0 190.8 L793.0 190.7 L796.0 190.6 L799.0 190.5 L802.0 190.5 L805.0 190.4 L808.0 190.3 L811.0 190.3 L814.0 190.2 L817.0 190.1 L820.0 190.1 L823.0 190.0 L826.0 189.9 L829.0 189.9 L832.0 189.8 L835.0 189.8 L838.0 189.7 L841.0 189.6 L844.0 189.6 L847.0 189.5 L850.0 189.5 L853.0 189.4 L856.0 189.4 L859.0 189.4 L862.0 189.3 L865.0 189.3 L868.0 189.2 L871.0 189.2 L874.0 189.2 L877.0 189.1 L880.0 189.1 L883.0 189.1 L886.0 189.0 L889.0 189.0 L892.0 189.0 L895.0 188.9 L898.0 188.9 L901.0 188.9 L904.0 188.9 L907.0 188.8 L910.0 188.8 L913.0 188.8 L916.0 188.7 L919.0 188.7 L922.0 188.7 L925.0 188.7 L928.0 188.6 L931.0 188.6 L934.0 188.6 L937.0 188.6 L940.0 188.5 L943.0 188.5 L946.0 188.5 L949.0 188.5 L952.0 188.5 L955.0 188.4 L958.0 188.4 L961.0 188.4 L964.0 188.4 L967.0 188.4 L970.0 188.3 L973.0 188.3 L976.0 188.3 L979.0 188.3 L982.0 188.3 L985.0 188.3 L988.0 188.3 L991.0 188.2 L994.0 188.2 L997.0 188.2 L1000.0 188.2 L1003.0 188.2 L1006.0 188.2 L1009.0 188.2 L1012.0 188.2 L1015.0 188.1 L1018.0 188.1 L1021.0 188.1 L1024.0 188.1 L1027.0 188.1 L1030.0 188.1 L1033.0 188.1 L1036.0 188.1 L1039.0 188.1 L1042.0 188.0 L1045.0 188.0 L1048.0 188.0 L1051.0 188.0 L1054.0 188.0 L1057.0 188.0 L1060.0 188.0 L1063.0 188.0 L1066.0 188.0 L1069.0 188.0 L1072.0 188.0 L1075.0 188.0 L1078.0 188.0 L1081.0 188.0 L1084.0 188.1 L1087.0 188.1 L1090.0 188.1 L1093.0 188.2 L1096.0 188.2 L1099.0 188.3 L1102.0 188.3 L1105.0 188.4 L1108.0 188.5 L1111.0 188.5 L1114.0 188.6 L1117.0 188.7 L1120.0 188.7 L1123.0 188.8 L1126.0 188.9 L1129.0 189.0 L1132.0 189.0 L1135.0 189.1 L1138.0 189.2 L1141.0 189.3 L1144.0 189.3 L1147.0 189.4 L1150.0 189.5 L1153.0 189.5 L1156.0 189.6 L1159.0 189.7 L1162.0 189.7 L1165.0 189.8 L1168.0 189.8 L1171.0 189.9 L1174.0 189.9 L1177.0 189.9 L1180.0 190.0 L1183.0 190.0 L1186.0 190.0 L1189.0 190.0 L1192.0 190.0 L1195.0 190.0 L1198.0 190.0 L1201.0 189.9 L1204.0 189.9 L1207.0 189.9 L1210.0 189.8 L1213.0 189.8 L1216.0 189.7 L1219.0 189.6 L1222.0 189.6 L1225.0 189.5 L1228.0 189.4 L1231.0 189.3 L1234.0 189.3 L1237.0 189.2 L1240.0 189.1 L1243.0 189.0 L1246.0 188.9 L1249.0 188.9 L1252.0 188.8 L1255.0 188.7 L1258.0 188.7 L1261.0 188.6 L1264.0 188.6 L1267.0 188.5 L1270.0 188.5 L1273.0 188.4 L1276.0 188.3 L1279.0 188.3 L1282.0 188.2 L1285.0 188.2 L1288.0 188.1 L1291.0 188.1 L1294.0 188.0 L1297.0 188.0 L1300.0 187.9 L1303.0 187.9 L1306.0 187.8 L1309.0 187.8 L1312.0 187.7 L1315.0 187.7 L1318.0 187.7 L1321.0 187.6 L1324.0 187.6 L1327.0 187.6 L1330.0 187.6 L1333.0 187.6 L1336.0 187.6 L1339.0 187.7 L1342.0 187.8 L1345.0 188.0 L1348.0 188.1 L1351.0 188.3 L1354.0 188.5 L1357.0 188.7 L1360.0 188.9 L1363.0 189.1 L1366.0 189.3 L1369.0 189.5 L1372.0 189.6 L1375.0 189.8 L1378.0 189.9 L1381.0 190.0 L1384.0 190.0 L1387.0 190.0 L1390.0 189.9 L1393.0 189.8 L1396.0 189.7 L1399.0 189.5 L1402.0 189.3 L1405.0 189.1 L1408.0 188.9 L1411.0 188.6 L1414.0 188.3 L1417.0 188.0 L1420.0 187.8 L1423.0 187.5 L1426.0 187.2 L1429.0 187.0 L1432.0 186.8 L1435.0 186.5 L1438.0 186.4 L1441.0 186.2 L1444.0 186.1 L1447.0 186.0 L1450.0 186.0 L1453.0 186.0 L1456.0 186.1 L1459.0 186.2 L1462.0 186.3 L1465.0 186.5 L1468.0 186.7 L1471.0 186.9 L1474.0 187.1 L1477.0 187.3 L1480.0 187.6 L1483.0 187.8 L1486.0 188.1 L1489.0 188.3 L1492.0 188.5 L1495.0 188.7 L1498.0 188.9 L1501.0 189.1 L1504.0 189.2 L1507.0 189.3 L1510.0 189.4 L1513.0 189.4 L1516.0 189.4 L1519.0 189.4 L1522.0 189.4 L1525.0 189.5 L1528.0 189.5 L1531.0 189.5 L1534.0 189.5 L1537.0 189.5 L1540.0 189.5 L1543.0 189.5 L1546.0 189.5 L1549.0 189.5 L1552.0 189.5 L1555.0 189.5 L1558.0 189.5 L1561.0 189.5 L1564.0 189.6 L1567.0 189.6 L1570.0 189.6 L1573.0 189.6 L1576.0 189.6 L1579.0 189.7 L1582.0 189.9 L1585.0 190.1 L1588.0 190.4 L1591.0 190.7 L1594.0 191.0 L1597.0 191.3 L1600.0 191.7 L1603.0 192.1 L1606.0 192.5 L1609.0 192.8 L1612.0 193.2 L1615.0 193.6 L1618.0 193.9 L1621.0 194.2 L1624.0 194.5 L1627.0 194.7 L1630.0 195.0 L1633.0 195.2 L1636.0 195.5 L1639.0 195.7 L1642.0 196.0 L1645.0 196.1 L1648.0 196.3 L1651.0 196.4 L1654.0 196.4 L1657.0 196.4 L1660.0 196.4 L1663.0 196.4 L1666.0 196.4 L1669.0 196.4 L1672.0 196.4 L1675.0 196.4 L1678.0 196.5 L1681.0 196.5 L1684.0 196.5 L1687.0 196.5 L1690.0 196.5 L1693.0 196.5 L1696.0 196.5 L1699.0 196.5 L1702.0 196.7 L1705.0 196.9 L1708.0 197.2 L1711.0 197.5 L1714.0 197.9 L1717.0 198.3 L1720.0 198.7 L1723.0 199.1 L1726.0 199.6 L1729.0 200.1 L1732.0 200.6 L1735.0 201.2 L1738.0 201.8 L1741.0 202.5 L1744.0 203.2 L1747.0 204.0 L1750.0 204.7 L1753.0 205.5 L1756.0 206.3 L1759.0 207.1 L1762.0 207.9 L1765.0 208.7 L1768.0 209.5 L1771.0 210.3 L1774.0 211.1 L1777.0 212.0 L1780.0 212.9 L1783.0 213.7 L1786.0 214.6 L1789.0 215.6 L1792.0 216.5 L1795.0 217.5 L1798.0 218.4 L1801.0 219.4 L1804.0 220.4 L1807.0 221.4 L1810.0 222.5 L1813.0 223.6 L1816.0 224.8 L1819.0 226.0 L1822.0 227.3 L1825.0 228.8 L1828.0 230.2 L1831.0 231.7 L1834.0 233.2 L1837.0 234.7 L1840.0 236.1 L1843.0 237.6 L1846.0 239.0 L1849.0 240.5 L1852.0 242.0 L1855.0 243.5 L1858.0 245.1 L1861.0 246.7 L1864.0 248.3 L1867.0 249.9 L1870.0 251.6 L1873.0 253.4 L1876.0 255.1 L1879.0 257.0 L1882.0 258.9 L1885.0 260.8 L1888.0 262.8 L1891.0 264.9 L1894.0 267.1 L1897.0 269.4 L1900.0 271.7 L1903.0 274.0 L1906.0 276.3 L1909.0 278.6 L1912.0 281.0 L1915.0 283.5 L1918.0 286.1 L1921.0 288.9 L1924.0 291.7 L1927.0 294.6 L1930.0 297.5 L1933.0 300.4 L1936.0 303.4 L1939.0 306.5 L1942.0 309.6 L1945.0 312.7 L1948.0 316.0 L1951.0 319.2 L1954.0 322.6 L1957.0 325.9 L1960.0 329.4 L1963.0 332.9 L1966.0 336.5 L1969.0 340.1 L1972.0 343.9 L1975.0 347.6 L1978.0 351.5 L1981.0 355.4 L1984.0 359.5 L1987.0 363.5 L1990.0 367.7 L1993.0 372.0 L1996.0 376.3 L1999.0 380.7 L2002.0 385.2 L2005.0 389.8 L2008.0 394.5 L2011.0 399.3 L2014.0 404.2 L2017.0 409.2 L2020.0 414.2 L2023.0 419.4 L2026.0 424.6 L2029.0 430.0 L2032.0 435.4 L2035.0 440.9 L2038.0 446.5 L2041.0 452.3 L2044.0 458.1 L2047.0 464.0 L2050.0 469.9 L2053.0 476.0 L2056.0 482.1 L2059.0 488.3 L2062.0 494.6 L2065.0 501.0 L2068.0 507.4 L2071.0 513.9 L2074.0 520.5 L2077.0 527.1 L2080.0 533.7 L2083.0 540.4 L2086.0 547.2 L2089.0 554.0 L2092.0 560.8 L2095.0 567.7 L2098.0 574.5 L2101.0 581.5 L2104.0 588.4 L2107.0 595.4 L2110.0 602.4 L2113.0 609.4 L2116.0 616.5 L2119.0 623.6 L2122.0 630.6 L2125.0 637.8 L2128.0 644.9 L2131.0 652.0 L2134.0 659.2 L2137.0 666.4 L2140.0 673.7 L2143.0 680.9 L2146.0 688.2 L2149.0 695.5 L2152.0 702.9 L2155.0 710.2 L2158.0 717.7 L2161.0 725.1 L2164.0 732.6 L2167.0 740.2 L2170.0 747.8 L2173.0 755.5 L2176.0 763.2 L2179.0 771.0 L2182.0 778.8 L2185.0 786.8 L2188.0 794.8 L2191.0 802.8 L2194.0 811.0 L2197.0 819.3 L2200.0 827.6 L2203.0 836.1 L2206.0 844.6 L2209.0 853.3 L2212.0 862.1 L2215.0 871.0 L2218.0 879.9 L2221.0 889.0 L2224.0 898.3 L2227.0 907.6 L2230.0 917.0 L2233.0 926.5 L2236.0 936.0" stroke="#0059B3" stroke-width="12.1"/>
</g>
<rect x="1308" y="647" width="683" height="371" fill="#fff"/>
<path d="M260.7 945.5 H280.0 M260.7 688.2 H280.0 M260.7 430.9 H280.0 M260.7 173.6 H280.0 M270.3 816.9 H280.0 M270.3 559.5 H280.0 M270.3 302.2 H280.0 M270.3 44.9 H280.0 M280.0 1048.3 V1066.2 M407.4 1048.3 V1057.6 M481.9 1048.3 V1057.6 M534.7 1048.3 V1057.6 M575.7 1048.3 V1057.6 M609.2 1048.3 V1057.6 M637.6 1048.3 V1057.6 M662.1 1048.3 V1057.6 M683.7 1048.3 V1057.6 M703.1 1048.3 V1066.2 M830.5 1048.3 V1057.6 M905.0 1048.3 V1057.6 M957.8 1048.3 V1057.6 M998.8 1048.3 V1057.6 M1032.3 1048.3 V1057.6 M1060.7 1048.3 V1057.6 M1085.2 1048.3 V1057.6 M1106.8 1048.3 V1057.6 M1126.2 1048.3 V1066.2 M1253.6 1048.3 V1057.6 M1328.1 1048.3 V1057.6 M1380.9 1048.3 V1057.6 M1421.9 1048.3 V1057.6 M1455.4 1048.3 V1057.6 M1483.8 1048.3 V1057.6 M1508.3 1048.3 V1057.6 M1529.9 1048.3 V1057.6 M1549.3 1048.3 V1066.2 M1676.7 1048.3 V1057.6 M1751.2 1048.3 V1057.6 M1804.0 1048.3 V1057.6 M1845.0 1048.3 V1057.6 M1878.5 1048.3 V1057.6 M1906.9 1048.3 V1057.6 M1931.4 1048.3 V1057.6 M1953.0 1048.3 V1057.6 M1972.4 1048.3 V1066.2 M2099.8 1048.3 V1057.6 M2174.3 1048.3 V1057.6 M2227.1 1048.3 V1057.6" stroke="#000" stroke-width="4" fill="none"/>
<text transform="translate(247.7,964.2) scale(1.0340,1)" font-size="72.4" text-anchor="end">25</text>
<text transform="translate(247.7,706.9) scale(1.0340,1)" font-size="72.4" text-anchor="end">30</text>
<text transform="translate(247.7,449.6) scale(1.0340,1)" font-size="72.4" text-anchor="end">35</text>
<text transform="translate(247.7,192.3) scale(1.0340,1)" font-size="72.4" text-anchor="end">40</text>
<clipPath id="c0"><path clip-rule="evenodd" d="M-20 -120 H260 V40 H-20 Z M6.75 -8.58 H20.07 V1.00 H6.75 Z M29.99 -8.58 H42.40 V1.00 H29.99 Z M96.73 -45.16 H105.01 V-38.60 H96.73 Z M110.86 -45.16 H118.60 V-38.60 H110.86 Z"/></clipPath>
<g transform="translate(217.6,1146.9) scale(1.034,1)"><text font-size="72.3" clip-path="url(#c0)"><tspan dx="3.2">1</tspan><tspan dx="-3.2">0</tspan><tspan font-size="42.7" dy="-39.6">-</tspan><tspan font-size="42.7" dx="0.4">1</tspan></text></g>
<clipPath id="c1"><path clip-rule="evenodd" d="M-20 -120 H260 V40 H-20 Z M6.75 -8.58 H20.07 V1.00 H6.75 Z M29.99 -8.58 H42.40 V1.00 H29.99 Z"/></clipPath>
<g transform="translate(648.6,1146.9) scale(1.034,1)"><text font-size="72.3" clip-path="url(#c1)"><tspan dx="3.2">1</tspan><tspan dx="-3.2">0</tspan><tspan font-size="42.7" dy="-39.6">0</tspan></text></g>
<clipPath id="c2"><path clip-rule="evenodd" d="M-20 -120 H260 V40 H-20 Z M6.75 -8.58 H20.07 V1.00 H6.75 Z M29.99 -8.58 H42.40 V1.00 H29.99 Z M83.71 -45.16 H91.99 V-38.60 H83.71 Z M97.84 -45.16 H105.58 V-38.60 H97.84 Z"/></clipPath>
<g transform="translate(1071.7,1146.9) scale(1.034,1)"><text font-size="72.3" clip-path="url(#c2)"><tspan dx="3.2">1</tspan><tspan dx="-3.2">0</tspan><tspan font-size="42.7" dy="-39.6" dx="1.6">1</tspan></text></g>
<clipPath id="c3"><path clip-rule="evenodd" d="M-20 -120 H260 V40 H-20 Z M6.75 -8.58 H20.07 V1.00 H6.75 Z M29.99 -8.58 H42.40 V1.00 H29.99 Z"/></clipPath>
<g transform="translate(1494.8,1146.9) scale(1.034,1)"><text font-size="72.3" clip-path="url(#c3)"><tspan dx="3.2">1</tspan><tspan dx="-3.2">0</tspan><tspan font-size="42.7" dy="-39.6">2</tspan></text></g>
<clipPath id="c4"><path clip-rule="evenodd" d="M-20 -120 H260 V40 H-20 Z M6.75 -8.58 H20.07 V1.00 H6.75 Z M29.99 -8.58 H42.40 V1.00 H29.99 Z"/></clipPath>
<g transform="translate(1917.9,1146.9) scale(1.034,1)"><text font-size="72.3" clip-path="url(#c4)"><tspan dx="3.2">1</tspan><tspan dx="-3.2">0</tspan><tspan font-size="42.7" dy="-39.6">3</tspan></text></g>
<text transform="translate(921.7,1215.0) scale(1.0390,1)" font-size="86.8">Frequency (Hz)</text>
<text transform="translate(111.1,773.8) rotate(-90) scale(0.933,1)" font-size="96">Gain(dB)</text>
<text transform="translate(638.7,124.0) scale(1.0346,1)" font-size="76.5" fill="#0066CC">DSL disabled</text>
<text transform="translate(710.4,471.9) scale(1.0346,1)" font-size="76.5">DSL enabled</text>
<text transform="translate(710.4,566.8) scale(1.0346,1)" font-size="76.5">Corner freq.</text>
<text transform="translate(710.2,661.7) scale(1.0175,1)" font-size="77.5">= 0.36 - 2.4 Hz</text>
<text transform="translate(1549.4,479.0) scale(1.0213,1)" font-size="77.5">800 Hz</text>
<rect x="395.1" y="175.4" width="57" height="52" fill="none" stroke="#0059B3" stroke-width="3.7"/>
<rect x="515" y="231.8" width="57.3" height="51.6" fill="none" stroke="#FF8000" stroke-width="3.8"/>
<rect x="1888.3" y="253.7" width="56.8" height="51.2" fill="none" stroke="#0000FF" stroke-width="3.8"/>
<path d="M462.9 174.1 L596.9 135.6" stroke="#0066CC" stroke-width="3.5" fill="none"/><path d="M618.5 129.5 L596.8 142.4 L593.2 130.0 Z" fill="#0066CC" stroke="#0066CC" stroke-width="3.0" stroke-linejoin="round"/>
<path d="M577.5 290.2 L748.5 390.7" stroke="#000" stroke-width="3.5" fill="none"/><path d="M766.6 401.4 L744.1 394.3 L749.5 385.1 Z" fill="#000" stroke="#000" stroke-width="3.0" stroke-linejoin="round"/>
<path d="M1735.4 418.0 L1862.6 323.5" stroke="#000" stroke-width="3.5" fill="none"/><path d="M1879.4 311.0 L1864.1 329.0 L1857.8 320.4 Z" fill="#000" stroke="#000" stroke-width="3.0" stroke-linejoin="round"/>
<path d="M1327.4 701.4 H1510.8" stroke="#B800B8" stroke-width="12.4"/>
<path d="M1327.4 825.4 H1372 M1432.2 825.4 H1476.4" stroke="#00C000" stroke-width="11.6"/>
<path d="M1327.4 948.9 H1382 M1416.8 948.9 H1424.2 M1459.6 948.9 H1510.4" stroke="#E87400" stroke-width="12"/>
<text transform="translate(1528.1,726.3) scale(1.0213,1)" font-size="77.5">V<tspan font-size="60" dy="29.2" dx="-0.5">PR</tspan><tspan dy="-29.2"> = 0.68 V</tspan></text>
<text transform="translate(1532.8,850.2) scale(1.0213,1)" font-size="77.5">V<tspan font-size="60" dy="29.2" dx="-0.5">PR</tspan><tspan dy="-29.2"> = 0.45 V</tspan></text>
<text transform="translate(1532.8,973.7) scale(1.0213,1)" font-size="77.5">V<tspan font-size="60" dy="29.2" dx="-0.5">PR</tspan><tspan dy="-29.2"> = 0.35 V</tspan></text>
</svg></body></html>
